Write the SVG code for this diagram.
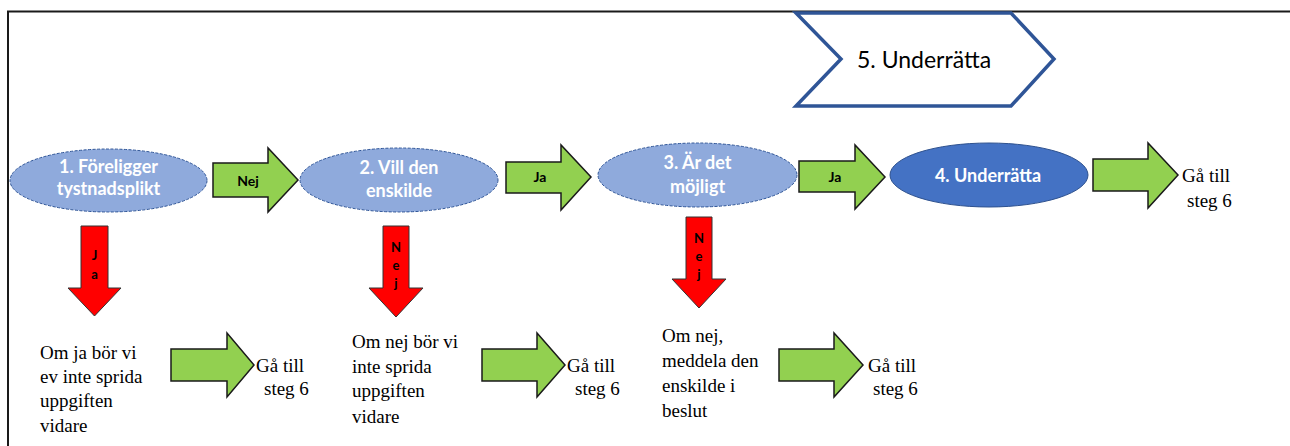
<svg xmlns="http://www.w3.org/2000/svg" width="1290" height="446" viewBox="0 0 1290 446">
  <defs>
    <style type="text/css">
      .frame { fill: none; stroke: #1a1a1a; stroke-width: 2; }
      .q { fill: #8FAADC; stroke: #2F5597; stroke-width: 1; stroke-dasharray: 3 1.5; }
      .act { fill: #4472C4; stroke: #2F528F; stroke-width: 1; }
      .chev { fill: #FFFFFF; stroke: #2F5597; stroke-width: 3.5; stroke-linejoin: miter; }
      .go { fill: #92D050; stroke: #1a1a1a; stroke-width: 1.5; stroke-linejoin: miter; }
      .no { fill: #FF0000; stroke: #333333; stroke-width: 1; }
    </style>
  </defs>

  <!-- outer frame (top and left edges only) -->
  <path class="frame" d="M8,446 V11.5 H1290"/>

  <!-- step 5 chevron -->
  <g id="step5">
    <polygon class="chev" points="796,13 1011,13 1054,59 1011,106 796,106 841,59"/>
    <text x="857" y="68" font-family="Lato, 'Liberation Sans', sans-serif" font-size="23" fill="#000">5. Underrätta</text>
  </g>

  <!-- decision nodes -->
  <g font-family="Lato, 'Liberation Sans', sans-serif" font-weight="700" font-size="18" fill="#FFFFFF" text-anchor="middle">
    <g id="step1">
      <ellipse class="q" cx="108.5" cy="180.5" rx="98.5" ry="31.5"/>
      <text x="108.5" y="173">1. Föreligger</text>
      <text x="108.5" y="195">tystnadsplikt</text>
    </g>
    <g id="step2">
      <ellipse class="q" cx="399" cy="180" rx="99" ry="32"/>
      <text x="399" y="174">2. Vill den</text>
      <text x="399" y="197">enskilde</text>
    </g>
    <g id="step3">
      <ellipse class="q" cx="697.5" cy="175" rx="99.5" ry="32"/>
      <text x="697.5" y="169">3. Är det</text>
      <text x="697.5" y="193">möjligt</text>
    </g>
    <g id="step4">
      <ellipse class="act" cx="989" cy="175" rx="99" ry="32"/>
      <text x="988" y="182">4. Underrätta</text>
    </g>
  </g>

  <!-- outcome texts and "go to step 6" targets -->
  <g font-family="'Liberation Serif', 'DejaVu Serif', serif" font-weight="400" font-size="19" fill="#000000">
    <g id="out1">
      <text x="40" y="359">Om ja bör vi</text>
      <text x="40" y="383">ev inte sprida</text>
      <text x="40" y="407">uppgiften</text>
      <text x="40" y="432">vidare</text>
    </g>
    <g id="out2">
      <text x="352" y="348">Om nej bör vi</text>
      <text x="352" y="373">inte sprida</text>
      <text x="352" y="397">uppgiften</text>
      <text x="352" y="423">vidare</text>
    </g>
    <g id="out3">
      <text x="662" y="342">Om nej,</text>
      <text x="662" y="367">meddela den</text>
      <text x="662" y="392">enskilde i</text>
      <text x="662" y="417">beslut</text>
    </g>
    <g id="goto-a">
      <text x="256" y="372">Gå till</text>
      <text x="264" y="395">steg 6</text>
    </g>
    <g id="goto-b">
      <text x="567" y="372">Gå till</text>
      <text x="575" y="395">steg 6</text>
    </g>
    <g id="goto-c">
      <text x="868" y="372">Gå till</text>
      <text x="873" y="395">steg 6</text>
    </g>
    <g id="goto-d">
      <text x="1182" y="182">Gå till</text>
      <text x="1187" y="207">steg 6</text>
    </g>
  </g>

  <!-- connectors: block arrows -->
  <g id="connectors" font-family="Lato, 'Liberation Sans', sans-serif" font-weight="700" fill="#000000" text-anchor="middle">
    <polygon class="go" points="213,163 268,163 268,148 298,180 268,212 268,197 213,197"/>
    <text x="248" y="186" font-size="14">Nej</text>

    <polygon class="go" points="506,162 561,162 561,145 591,177 561,210 561,193 506,193"/>
    <text x="540" y="182" font-size="14">Ja</text>

    <polygon class="go" points="799,161 855,161 855,145 885,177 855,209 855,192 799,192"/>
    <text x="835" y="182" font-size="14">Ja</text>

    <polygon class="go" points="1093,159 1148,159 1148,143 1178,175 1148,208 1148,191 1093,191"/>

    <polygon class="no" points="81,226 108,226 108,288 121,288 94.5,316 68,288 81,288"/>
    <text x="94.5" y="260" font-size="13">J</text>
    <text x="94.5" y="279" font-size="13">a</text>

    <polygon class="no" points="383,226 409,226 409,288 423,288 396,317 369,288 383,288"/>
    <text x="396" y="252" font-size="13">N</text>
    <text x="396" y="270" font-size="13">e</text>
    <text x="396" y="288" font-size="13">j</text>

    <polygon class="no" points="686,217 712,217 712,279 726,279 699,308 672,279 686,279"/>
    <text x="699" y="243" font-size="13">N</text>
    <text x="699" y="261" font-size="13">e</text>
    <text x="699" y="279" font-size="13">j</text>

    <polygon class="go" points="171,349 227,349 227,333 254,365 227,397 227,381 171,381"/>
    <polygon class="go" points="482,349 537,349 537,333 565,365 537,397 537,381 482,381"/>
    <polygon class="go" points="779,349 834,349 834,333 863,365 834,397 834,381 779,381"/>
  </g>
</svg>
